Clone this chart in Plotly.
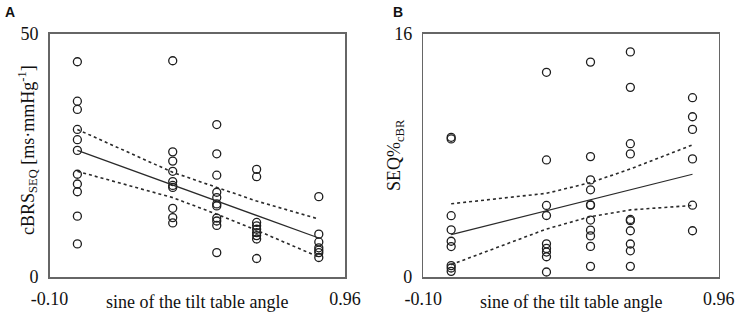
import plotly.graph_objects as go

# ---- data ----
sine_levels = [0.0, 0.342, 0.5, 0.643, 0.866]

# Panel A: cBRS_SEQ [ms/mmHg]
cbrs_0 = [44.2, 36.1, 34.4, 30.3, 28.2, 26.0, 21.1, 19.1, 17.5, 12.5, 6.8]
cbrs_1 = [44.4, 25.7, 23.8, 21.7, 19.6, 18.8, 18.4, 14.1, 12.2, 11.1]
cbrs_2 = [31.3, 25.3, 20.9, 17.4, 16.3, 15.0, 14.6, 12.1, 11.5, 10.6, 5.0]
cbrs_3 = [22.1, 20.6, 11.2, 10.5, 9.8, 9.1, 8.5, 7.8, 3.8]
cbrs_4 = [16.5, 8.8, 7.2, 6.0, 5.5, 5.0, 4.0]
cbrs_fit = [26.0, 18.9, 15.6, 12.6, 8.0]
cbrs_ci_upper = [30.3, 21.5, 18.4, 15.6, 11.9]
cbrs_ci_lower = [21.7, 16.3, 12.9, 9.6, 4.1]

# Panel B: SEQ%_cBR
seq_0 = [9.18, 9.07, 4.03, 3.10, 2.35, 2.00, 0.75, 0.59, 0.37]
seq_1 = [13.45, 7.69, 4.70, 4.04, 2.18, 1.88, 1.64, 1.33, 0.33]
seq_2 = [14.12, 7.91, 6.38, 5.73, 4.74, 4.72, 3.74, 3.08, 2.70, 2.01, 0.70]
seq_3 = [14.79, 12.46, 8.76, 8.09, 3.78, 3.70, 3.04, 2.17, 1.72, 0.70]
seq_4 = [11.78, 10.53, 9.70, 7.76, 4.72, 3.04]
seq_fit = [2.78, 4.35, 5.07, 5.73, 6.75]
seq_ci_upper = [4.81, 5.50, 6.20, 7.10, 8.68]
seq_ci_lower = [0.81, 3.15, 3.97, 4.41, 4.70]

x_range = [-0.10, 0.96]
x_tick_labels = ["-0.10", "0.96"]
a_y_range = [0, 50]
b_y_range = [0, 16]

# ---- figure ----
W, H = 737, 316
SERIF = "Liberation Serif, Times New Roman, serif"
INK = "#1e1e1e"

def px_x(p):
    return p / W

def px_y(p):
    return 1 - p / H

fig = go.Figure()

def add_panel(cols, fit, up, lo, xa, ya):
    xs, ys = [], []
    for lvl, vals in zip(sine_levels, cols):
        xs += [lvl] * len(vals)
        ys += vals
    fig.add_trace(go.Scatter(x=xs, y=ys, mode="markers", xaxis=xa, yaxis=ya,
                             marker=dict(symbol="circle-open", size=8, color=INK,
                                         line=dict(width=1.3, color=INK)),
                             showlegend=False, hoverinfo="skip"))
    fig.add_trace(go.Scatter(x=sine_levels, y=fit, mode="lines", xaxis=xa, yaxis=ya,
                             line=dict(color="#2a2a2a", width=1.2),
                             showlegend=False, hoverinfo="skip"))
    for band in (up, lo):
        fig.add_trace(go.Scatter(x=sine_levels, y=band, mode="lines", xaxis=xa, yaxis=ya,
                                 line=dict(color="#2a2a2a", width=1.6, dash="dot"),
                                 showlegend=False, hoverinfo="skip"))

add_panel([cbrs_0, cbrs_1, cbrs_2, cbrs_3, cbrs_4], cbrs_fit, cbrs_ci_upper, cbrs_ci_lower, "x", "y")
add_panel([seq_0, seq_1, seq_2, seq_3, seq_4], seq_fit, seq_ci_upper, seq_ci_lower, "x2", "y2")

axis_common = dict(showgrid=False, zeroline=False, showline=True, mirror=True,
                   linecolor="#666666", linewidth=1.5, ticks="", automargin=False,
                   tickfont=dict(family=SERIF, size=18, color="#111111"))

ydom = [px_y(277), px_y(33.5)]
fig.update_layout(
    width=W, height=H,
    margin=dict(l=0, r=0, t=0, b=0, pad=0, autoexpand=False),
    paper_bgcolor="white", plot_bgcolor="white",
    xaxis=dict(domain=[px_x(49.5), px_x(345)], range=x_range, anchor="y",
               tickvals=x_range, ticktext=x_tick_labels, ticklabelstandoff=5, **axis_common),
    yaxis=dict(domain=ydom, range=a_y_range, anchor="x",
               tickvals=a_y_range, ticktext=[str(v) for v in a_y_range], ticklabelstandoff=6, **axis_common),
    xaxis2=dict(domain=[px_x(423.3), px_x(718.7)], range=x_range, anchor="y2",
                tickvals=x_range, ticktext=x_tick_labels, ticklabelstandoff=5, **axis_common),
    yaxis2=dict(domain=ydom, range=b_y_range, anchor="x2",
                tickvals=b_y_range, ticktext=[str(v) for v in b_y_range], ticklabelstandoff=6, **axis_common),
)

title_font = dict(family=SERIF, size=18, color="#111111")
ann = [
    dict(text="sine of the tilt table angle", x=px_x(197.3), y=px_y(302),
         xanchor="center", yanchor="middle", font=title_font),
    dict(text="sine of the tilt table angle", x=px_x(571), y=px_y(302),
         xanchor="center", yanchor="middle", font=title_font),
    dict(text="cBRS<sub>SEQ</sub> [ms·mmHg<sup>-1</sup>]", x=px_x(27), y=px_y(150),
         xanchor="center", yanchor="middle", textangle=-90, font=title_font),
    dict(text="SEQ%<sub>cBR</sub>", x=px_x(396), y=px_y(155),
         xanchor="center", yanchor="middle", textangle=-90, font=title_font),
    dict(text="<b>A</b>", x=px_x(10), y=px_y(12), xanchor="center", yanchor="middle",
         font=dict(family="Liberation Sans, Arial, sans-serif", size=14, color="#111111")),
    dict(text="<b>B</b>", x=px_x(398), y=px_y(12), xanchor="center", yanchor="middle",
         font=dict(family="Liberation Sans, Arial, sans-serif", size=14, color="#111111")),
]
for a in ann:
    a.update(xref="paper", yref="paper", showarrow=False)
fig.update_layout(annotations=ann)

fig.write_html(
    "out.html",
    config={"displayModeBar": False, "staticPlot": True},
    post_script="document.body.style.margin='0';document.body.style.overflow='hidden';",
)
